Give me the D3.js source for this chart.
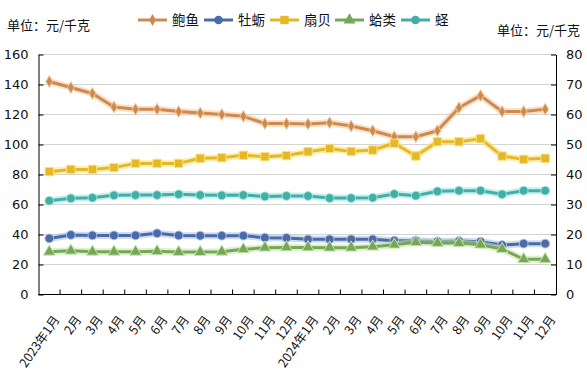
<!DOCTYPE html>
<html>
<head>
<meta charset="utf-8">
<script src="https://cdn.jsdelivr.net/npm/d3@7"></script>
<style>
body{margin:0;background:#fff;}
text{font-family:"Noto Sans CJK SC","DejaVu Sans",sans-serif;}
</style>
</head>
<body>
<script>
// 数据
const months = ["2023年1月","2月","3月","4月","5月","6月","7月","8月","9月","10月","11月","12月",
                "2024年1月","2月","3月","4月","5月","6月","7月","8月","9月","10月","11月","12月"];
const seriesNames = ["鲍鱼","牡蛎","扇贝","蛤类","蛏"];
const abalone = [142,138,134,125,123.5,123.5,122,121,120,118.8,114,114,113.7,114.5,112.3,109.2,105.2,105.2,109.2,124.5,132.6,122,122,123.5];
const oyster  = [37.4,39.7,39.4,39.4,39.4,40.8,39.4,39.2,39.2,39.2,37.9,37.7,36.8,36.8,36.8,36.8,35.9,35.9,35.4,35.7,35.2,33,33.9,33.9];
const scallop = [81.9,83.4,83.4,84.6,87.4,87.4,87.4,90.8,91.2,92.8,91.9,92.6,95.2,97.4,95.4,96.3,100.8,92.3,101.9,101.9,103.9,92.3,90.1,90.8];
const clam    = [28.5,29.2,28.5,28.5,28.5,28.8,28.3,28.3,28.5,30.1,31.2,31.4,31.4,31.2,31.2,31.9,33.2,34.8,34.3,34.3,33.2,30.3,23.5,23.5];
const razor   = [62.5,64.1,64.5,66.1,66.3,66.3,66.8,66.3,66.1,66.3,65.4,65.7,65.7,64.3,64.3,64.5,67,65.9,68.8,69.2,69.2,66.8,69.2,69.2];
const leftTicks = [0,20,40,60,80,100,120,140,160];
const rightTicks = [0,10,20,30,40,50,60,70,80];

const colors = ["#cd8a50","#4a6ba8","#e4b828","#77a65a","#43aea6"];
const halos  = ["#f5c89a","#a9c0ea","#fbe27a","#c5e6a6","#9be6e0"];
const shapes = [d3.symbolDiamond,d3.symbolCircle,d3.symbolSquare,d3.symbolTriangle,d3.symbolCircle];
const sizes  = [40,60,70,60,60];
const allData = [abalone,oyster,scallop,clam,razor];

const width = 587, height = 383;
const pLeft = 38.5, pRight = 556, pTop = 54.5, pBottom = 294.5;

const svg = d3.select("body").append("svg").attr("width",width).attr("height",height);

const x = d3.scaleBand().domain(months.map((m,i)=>i)).range([pLeft,pRight]).padding(0);
const y = d3.scaleLinear().domain([0,160]).range([pBottom,pTop]);
const y2 = d3.scaleLinear().domain([0,80]).range([pBottom,pTop]);

// 网格线
svg.append("g").selectAll("line").data(leftTicks.slice(1)).enter().append("line")
  .attr("x1",pLeft).attr("x2",pRight)
  .attr("y1",d=>y(d)).attr("y2",d=>y(d))
  .attr("stroke","#d4d4d4").attr("stroke-width",1);

// 左轴
const yAxisL = svg.append("g").attr("transform",`translate(${pLeft},0)`)
  .call(d3.axisLeft(y).tickValues(leftTicks).tickSizeInner(-5).tickSizeOuter(0).tickPadding(10));
// 右轴
const yAxisR = svg.append("g").attr("transform",`translate(${pRight},0)`)
  .call(d3.axisRight(y2).tickValues(rightTicks).tickSizeInner(-5).tickSizeOuter(0).tickPadding(10));
[yAxisL,yAxisR].forEach(g=>{
  g.selectAll("text").attr("font-size",13).attr("fill","#111")
    .style("font-family","'DejaVu Sans',sans-serif");
  g.selectAll("line,path").attr("stroke","#000");
});

// x轴
const xg = svg.append("g");
xg.append("line").attr("x1",pLeft).attr("x2",pRight).attr("y1",pBottom).attr("y2",pBottom).attr("stroke","#000");
xg.selectAll("line.tk").data(d3.range(1,months.length)).enter().append("line").attr("class","tk")
  .attr("x1",d=>x(d)).attr("x2",d=>x(d)).attr("y1",pBottom).attr("y2",pBottom-5).attr("stroke","#000");
xg.selectAll("text").data(months).enter().append("text")
  .attr("transform",(d,i)=>`translate(${x(i)+x.bandwidth()/2+11},${pBottom+25}) rotate(-55)`)
  .attr("text-anchor","end").attr("font-size",12.5).attr("fill","#111")
  .text(d=>d);

// 折线
const line = d3.line().x((d,i)=>x(i)+x.bandwidth()/2).y(d=>y(d));
allData.forEach((data,k)=>{
  const g = svg.append("g");
  g.append("path").datum(data).attr("d",line).attr("fill","none")
    .attr("stroke",halos[k]).attr("stroke-width",7).attr("opacity",0.55).attr("stroke-linejoin","round");
  g.append("path").datum(data).attr("d",line).attr("fill","none")
    .attr("stroke",colors[k]).attr("stroke-width",3).attr("stroke-linejoin","round");
  g.selectAll("path.pt").data(data).enter().append("path").attr("class","pt")
    .attr("transform",(d,i)=>`translate(${x(i)+x.bandwidth()/2},${y(d)})`)
    .attr("d",d3.symbol().type(shapes[k]).size(sizes[k]))
    .attr("fill",colors[k]).attr("stroke",halos[k]).attr("stroke-width",1);
});

// 图例
const legendX = [138,204,270,335,401];
const lg = svg.append("g");
seriesNames.forEach((name,k)=>{
  const gx = legendX[k];
  lg.append("line").attr("x1",gx).attr("x2",gx+29).attr("y1",20).attr("y2",20)
    .attr("stroke",colors[k]).attr("stroke-width",3);
  lg.append("path").attr("transform",`translate(${gx+14.5},20)`)
    .attr("d",d3.symbol().type(shapes[k]).size(sizes[k]))
    .attr("fill",colors[k]);
  lg.append("text").attr("x",gx+34).attr("y",25).attr("font-size",13.5).attr("fill","#111").text(name);
});

// 单位
svg.append("text").attr("x",7).attr("y",30).attr("font-size",13).attr("fill","#111").text("单位：元/千克");
svg.append("text").attr("x",580).attr("y",35).attr("text-anchor","end").attr("font-size",13).attr("fill","#111").text("单位：元/千克");
</script>
</body>
</html>
